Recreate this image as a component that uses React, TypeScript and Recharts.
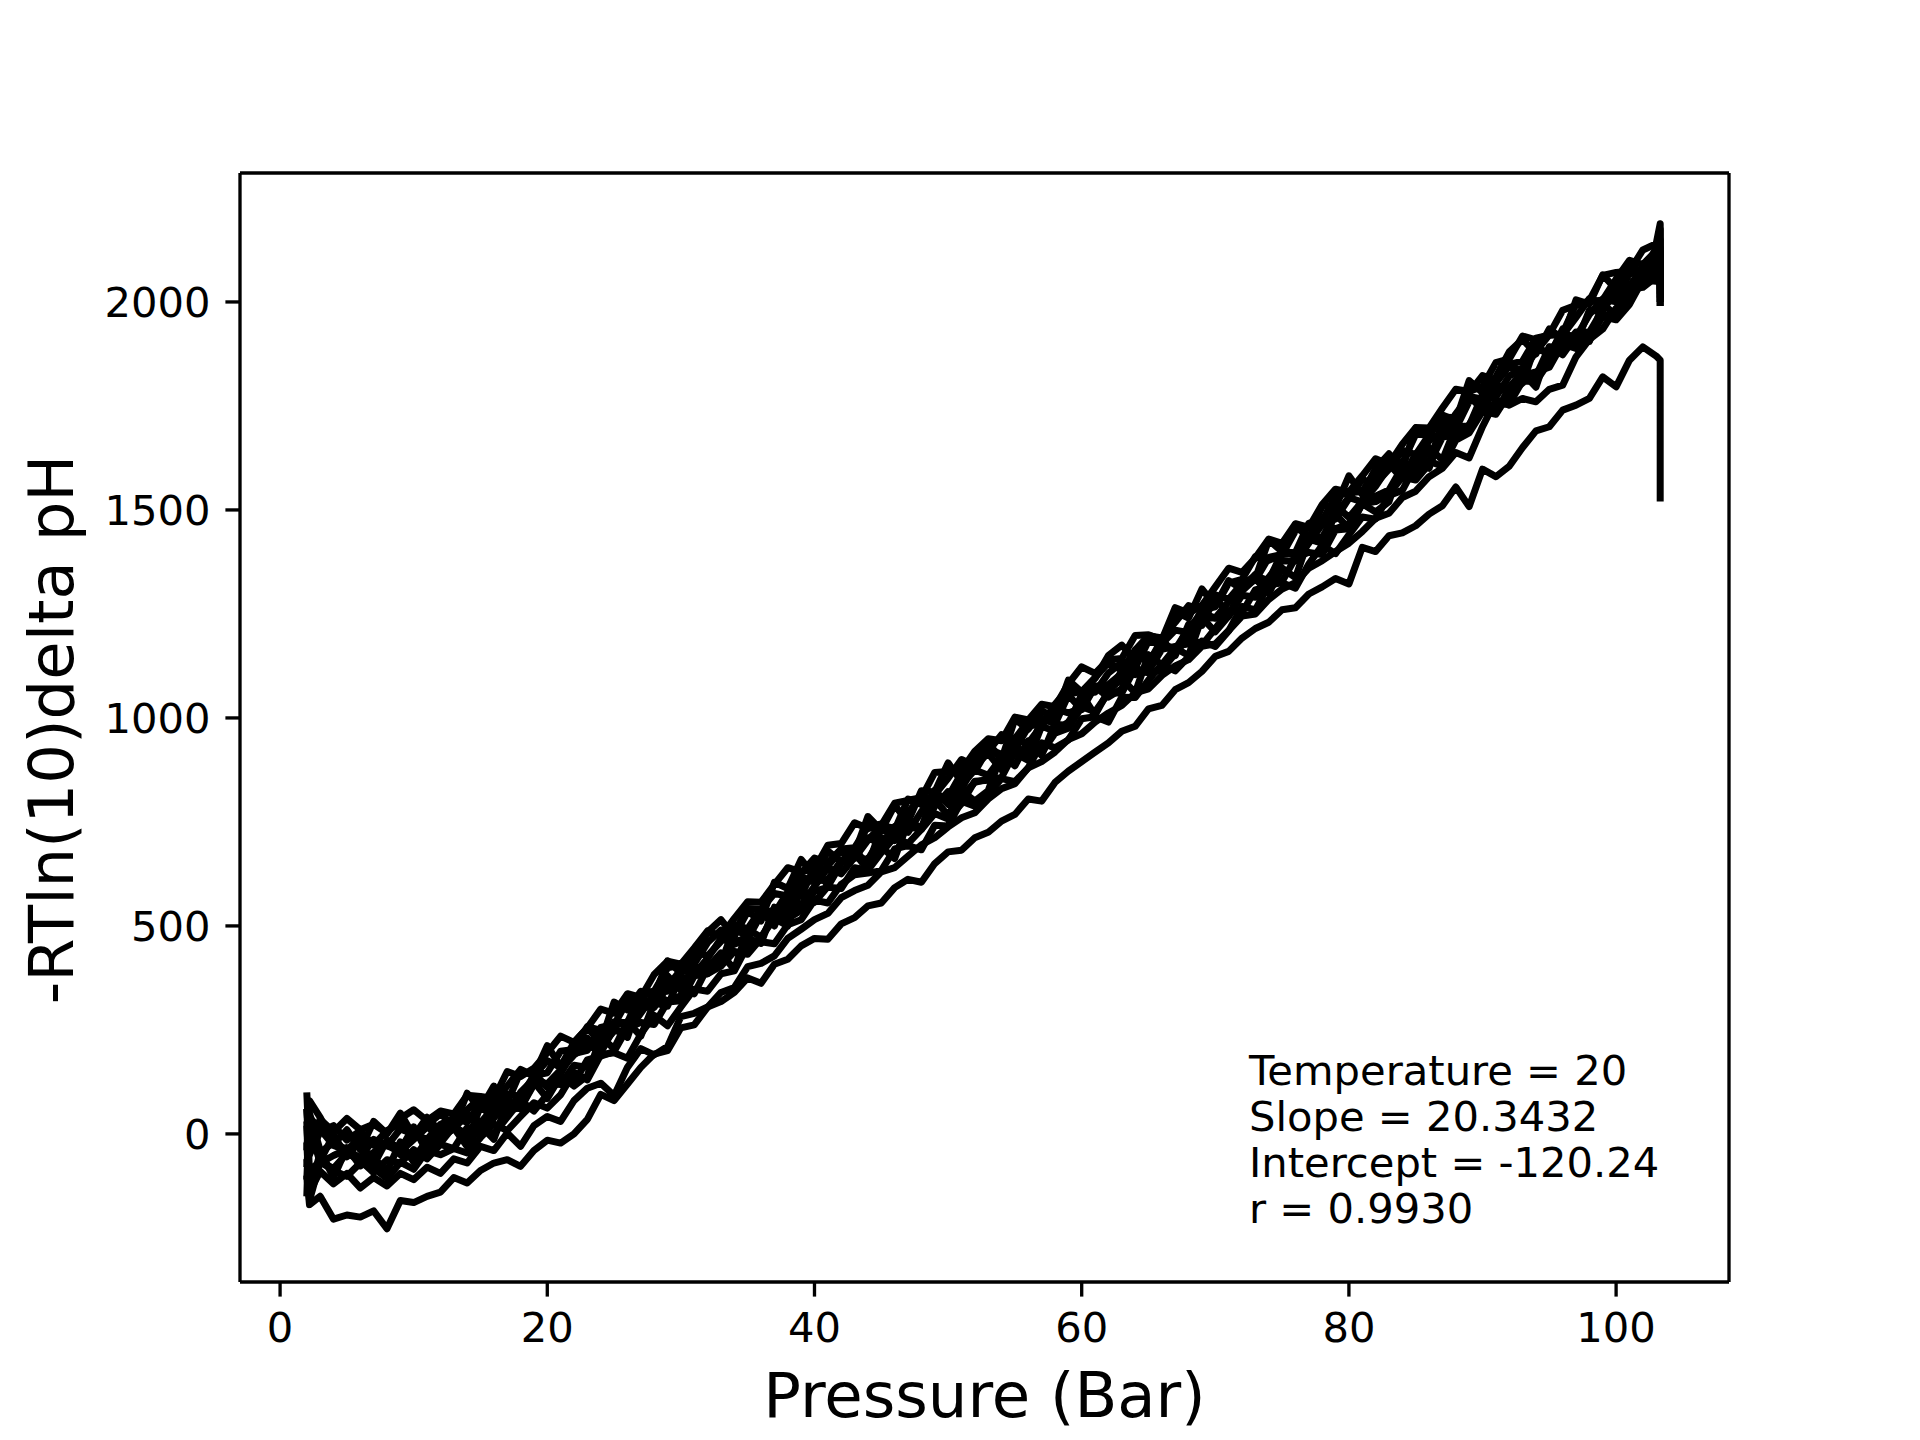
import React from 'react'
import { LineChart, Line, XAxis, YAxis, ReferenceLine } from 'recharts'

const FONT = '"DejaVu Sans", sans-serif'

// pressure steps (bar), shared by every run
const PRESSURE = [
  2, 2.2,
  3, 4, 5, 6, 7, 8, 9, 10, 11, 12,
  13, 14, 15, 16, 17, 18, 19, 20, 21, 22,
  23, 24, 25, 26, 27, 28, 29, 30, 31, 32,
  33, 34, 35, 36, 37, 38, 39, 40, 41, 42,
  43, 44, 45, 46, 47, 48, 49, 50, 51, 52,
  53, 54, 55, 56, 57, 58, 59, 60, 61, 62,
  63, 64, 65, 66, 67, 68, 69, 70, 71, 72,
  73, 74, 75, 76, 77, 78, 79, 80, 81, 82,
  83, 84, 85, 86, 87, 88, 89, 90, 91, 92,
  93, 94, 95, 96, 97, 98, 99, 100, 101, 102, 103,
  103.3, 103.3,
]

// -RT ln(10) delta pH for each run
const RUN_1 = [
  60, -30,
  35, 5, 37, 10, 23, 2, 37, 58, 32, 55,
  48, 93, 90, 85, 150, 138, 158, 195, 235, 220,
  255, 300, 290, 337, 328, 383, 415, 408, 447, 488,
  475, 518, 558, 557, 600, 640, 630, 637, 694, 698,
  748, 734, 742, 795, 802, 808, 869, 871, 874, 920,
  950, 945, 1002, 995, 1033, 1027, 1082, 1123, 1107, 1140,
  1143, 1198, 1200, 1188, 1265, 1252, 1270, 1315, 1360, 1350,
  1385, 1430, 1420, 1467, 1458, 1513, 1550, 1543, 1582, 1623,
  1610, 1658, 1698, 1697, 1745, 1790, 1785, 1797, 1854, 1863,
  1918, 1909, 1922, 1980, 1992, 2003, 2064, 2071, 2074, 2125, 2140,
  2188, 2110,
]
const RUN_2 = [
  100, -50,
  5, 20, -15, 7, -27, 8, 25, -2, 22, 48,
  20, 58, 88, 77, 115, 155, 140, 147, 199, 203,
  258, 249, 262, 320, 332, 343, 399, 406, 409, 460,
  490, 485, 542, 540, 578, 572, 627, 663, 652, 685,
  688, 738, 745, 730, 805, 792, 815, 855, 900, 885,
  920, 960, 950, 992, 983, 1033, 1070, 1063, 1097, 1133,
  1115, 1163, 1198, 1192, 1230, 1270, 1260, 1267, 1324, 1333,
  1388, 1379, 1392, 1450, 1462, 1473, 1534, 1541, 1544, 1595,
  1625, 1612, 1682, 1680, 1723, 1722, 1782, 1823, 1812, 1850,
  1858, 1913, 1920, 1925, 1995, 2000, 2005, 2055, 2100, 2090, 2123,
  2150, 2080,
]
const RUN_3 = [
  -110, 40,
  11, -28, -40, -7, -20, -29, 12, -1, -13, 23,
  38, 28, 75, 63, 96, 90, 140, 176, 160, 193,
  201, 256, 263, 268, 338, 343, 343, 393, 438, 428,
  463, 503, 493, 540, 531, 581, 618, 606, 645, 681,
  663, 706, 741, 735, 773, 813, 803, 810, 867, 871,
  926, 912, 925, 978, 990, 996, 1057, 1064, 1062, 1108,
  1133, 1120, 1185, 1178, 1211, 1205, 1260, 1296, 1285, 1323,
  1331, 1386, 1393, 1398, 1468, 1473, 1478, 1528, 1573, 1563,
  1598, 1643, 1633, 1680, 1676, 1731, 1773, 1766, 1805, 1846,
  1833, 1881, 1921, 1920, 1963, 2008, 1998, 2010, 2067, 2076, 2108,
  2130, 2040,
]
const RUN_4 = [
  30, -140,
  -45, -20, -38, -58, -13, -28, -43, -13, 17, -8,
  12, 47, 27, 64, 50, 100, 132, 120, 154, 190,
  212, 200, 269, 267, 305, 304, 354, 395, 384, 422,
  470, 456, 469, 527, 539, 545, 606, 608, 611, 657,
  672, 712, 697, 739, 725, 775, 812, 800, 839, 875,
  862, 905, 945, 939, 982, 1022, 1012, 1024, 1076, 1080,
  1107, 1152, 1137, 1179, 1165, 1215, 1252, 1240, 1279, 1320,
  1342, 1330, 1399, 1397, 1435, 1434, 1489, 1530, 1519, 1557,
  1605, 1596, 1609, 1667, 1684, 1695, 1761, 1768, 1771, 1822,
  1842, 1887, 1877, 1924, 1915, 1970, 2007, 2000, 2039, 2080, 2090,
  2110, 2020,
]
const RUN_5 = [
  -80, 20,
  -70, -52, -37, -63, -45, -20, -50, -58, -16, -22,
  18, -1, 2, 50, 57, 63, 119, 121, 119, 165,
  160, 208, 248, 247, 290, 335, 320, 332, 389, 398,
  413, 463, 470, 458, 545, 532, 550, 595, 640, 625,
  665, 660, 712, 705, 738, 732, 787, 823, 812, 845,
  853, 903, 915, 898, 980, 968, 990, 1035, 1075, 1060,
  1113, 1104, 1112, 1165, 1172, 1178, 1239, 1241, 1244, 1295,
  1290, 1338, 1378, 1377, 1420, 1465, 1455, 1467, 1524, 1533,
  1548, 1603, 1615, 1600, 1690, 1680, 1705, 1755, 1800, 1790,
  1835, 1822, 1892, 1890, 1928, 1927, 1982, 2023, 2012, 2050, 2075,
  2095, 2010,
]
const RUN_6 = [
  20, -120,
  -65, -83, -47, -63, -93, -62, -70, -38, -60, -25,
  -35, 15, 10, 0, 40, 80, 55, 95, 133, 123,
  178, 187, 198, 255, 268, 263, 317, 320, 380, 385,
  403, 439, 432, 470, 530, 518, 537, 583, 593, 590,
  640, 634, 676, 714, 698, 732, 770, 757, 794, 848,
  850, 857, 918, 922, 917, 963, 975, 1027, 1015, 1060,
  1060, 1120, 1108, 1115, 1155, 1195, 1175, 1215, 1258, 1253,
  1308, 1317, 1328, 1385, 1398, 1393, 1452, 1455, 1515, 1520,
  1538, 1579, 1572, 1610, 1675, 1680, 1692, 1743, 1753, 1755,
  1810, 1809, 1856, 1899, 1888, 1927, 1965, 1957, 1994, 2053, 2050,
  2070, 1990,
]
const RUN_7 = [
  -20, -160,
  -67, -88, -102, -70, -82, -107, -68, -85, -40, -50,
  -35, -46, -9, 24, 8, 42, 75, 62, 94, 148,
  130, 190, 195, 182, 240, 285, 260, 305, 348, 343,
  385, 392, 453, 462, 457, 503, 515, 562, 555, 600,
  623, 627, 633, 685, 693, 683, 742, 740, 800, 788,
  818, 854, 847, 880, 940, 928, 947, 998, 1003, 990,
  1050, 1049, 1091, 1129, 1113, 1147, 1185, 1172, 1209, 1268,
  1260, 1320, 1325, 1312, 1370, 1415, 1395, 1440, 1483, 1478,
  1535, 1547, 1608, 1617, 1605, 1668, 1685, 1737, 1730, 1780,
  1823, 1832, 1843, 1900, 1913, 1908, 1967, 1970, 2030, 2035, 2060,
  2080, 2000,
]
const RUN_8 = [
  -60, -140,
  -90, -120, -95, -130, -105, -125, -95, -110, -80, -95,
  -60, -70, -30, -40, 2, -30, 20, 42, 30, 80,
  110, 122, 92, 160, 205, 190, 210, 282, 290, 305,
  340, 352, 402, 410, 428, 470, 492, 515, 530, 568,
  585, 598, 630, 640, 668, 695, 712, 738, 760, 772,
  805, 830, 842, 880, 895, 918, 948, 962, 990, 1012,
  1030, 1060, 1070, 1102, 1125, 1140, 1172, 1178, 1210, 1245,
  1250, 1285, 1310, 1325, 1360, 1378, 1400, 1420, 1448, 1480,
  1492, 1530, 1545, 1580, 1600, 1638, 1625, 1700, 1764, 1752,
  1768, 1760, 1790, 1800, 1868, 1910, 1935, 1985, 2010, 2050, 2068,
  2040, 1990,
]
const RUN_9 = [
  -100, -170,
  -150, -205, -195, -200, -185, -228, -160, -165, -150, -140,
  -105, -118, -88, -70, -62, -78, -40, -15, -22, 0,
  35, 95, 80, 120, 160, 192, 200, 255, 262, 305,
  318, 340, 375, 362, 408, 420, 452, 470, 468, 505,
  520, 548, 555, 592, 612, 605, 650, 678, 682, 712,
  725, 752, 768, 805, 800, 845, 872, 895, 918, 940,
  968, 980, 1022, 1030, 1068, 1085, 1112, 1148, 1160, 1192,
  1215, 1230, 1260, 1265, 1298, 1315, 1335, 1322, 1410, 1400,
  1438, 1445, 1462, 1490, 1510, 1555, 1508, 1598, 1580, 1605,
  1650, 1690, 1700, 1740, 1752, 1768, 1820, 1796, 1860, 1892, 1870,
  1860, 1520,
]
const RUN_10 = [
  -40, 80,
  40, -25, 10, -38, 30, 0, 50, -5, 40, 5,
  15, 98, 60, 115, 75, 150, 142, 212, 162, 220,
  255, 220, 317, 298, 343, 330, 416, 387, 425, 485,
  515, 475, 535, 512, 605, 590, 660, 620, 680, 655,
  675, 763, 730, 790, 750, 825, 822, 892, 847, 905,
  940, 900, 997, 973, 1018, 1000, 1091, 1062, 1095, 1150,
  1175, 1140, 1195, 1167, 1255, 1240, 1310, 1270, 1330, 1310,
  1335, 1428, 1400, 1465, 1430, 1510, 1507, 1582, 1537, 1600,
  1635, 1600, 1697, 1678, 1728, 1715, 1811, 1782, 1820, 1880,
  1910, 1875, 1935, 1912, 2005, 1995, 2065, 2030, 2090, 2070, 2130,
  2175, 2060,
]
const RUN_11 = [
  60, -90,
  -65, -2, -55, -15, -75, -15, -38, 17, -43, 5,
  25, -20, 67, 38, 78, 60, 146, 112, 145, 200,
  230, 195, 255, 232, 325, 315, 380, 345, 405, 385,
  410, 498, 470, 535, 500, 575, 572, 642, 597, 655,
  685, 645, 737, 713, 753, 735, 826, 792, 830, 885,
  915, 875, 935, 907, 1000, 985, 1055, 1020, 1075, 1050,
  1070, 1163, 1130, 1190, 1150, 1225, 1222, 1292, 1247, 1310,
  1345, 1310, 1407, 1388, 1433, 1420, 1511, 1482, 1520, 1580,
  1610, 1575, 1635, 1612, 1710, 1700, 1775, 1740, 1800, 1780,
  1805, 1898, 1870, 1935, 1900, 1980, 1977, 2052, 2007, 2070, 2075,
  2120, 2030,
]
const RUN_12 = [
  -150, 50,
  -40, -105, -33, -77, -57, -90, -19, -68, -45, 0,
  15, -30, 20, -13, 75, 60, 125, 85, 140, 115,
  140, 233, 205, 270, 235, 315, 307, 382, 337, 400,
  435, 395, 492, 473, 518, 500, 591, 557, 595, 650,
  675, 635, 690, 662, 750, 735, 805, 765, 825, 800,
  825, 913, 885, 945, 910, 985, 982, 1057, 1007, 1065,
  1095, 1060, 1152, 1128, 1168, 1150, 1241, 1207, 1245, 1305,
  1335, 1300, 1360, 1337, 1430, 1420, 1490, 1455, 1515, 1495,
  1520, 1613, 1585, 1650, 1620, 1700, 1702, 1777, 1732, 1795,
  1830, 1795, 1892, 1873, 1918, 1905, 1996, 1967, 2005, 2065, 2070,
  2100, 2000,
]

const RUNS = [RUN_1, RUN_2, RUN_3, RUN_4, RUN_5, RUN_6, RUN_7, RUN_8, RUN_9, RUN_10, RUN_11, RUN_12]

const X_TICKS = [0, 20, 40, 60, 80, 100]
const Y_TICKS = [0, 500, 1000, 1500, 2000]
const X_DOMAIN: [number, number] = [-3.0, 108.45]
const Y_DOMAIN: [number, number] = [-356, 2310]

const FIT_LINES = ['Temperature = 20', 'Slope = 20.3432', 'Intercept = -120.24', 'r = 0.9930']

const rows = PRESSURE.map((p, i) => {
  const r: any = { p }
  RUNS.forEach((run, k) => { r[`run${k + 1}`] = run[i] })
  return r
})

const tickStyle = { fontSize: 41.67, fill: '#000', fontFamily: FONT }
const spine = { stroke: '#000', strokeWidth: 3.33 }

export default function App() {
  return (
    <div style={{ position: 'absolute', left: 0, top: 0, width: 1920, height: 1440, background: '#fff' }}>
      <LineChart width={1920} height={1440} data={rows} margin={{ top: 173, right: 191, bottom: 0, left: 0 }}>
        <XAxis
          type="number" dataKey="p" domain={X_DOMAIN} ticks={X_TICKS} allowDataOverflow interval={0}
          height={158} tickSize={14.6} tickMargin={16} tick={tickStyle}
          axisLine={spine} tickLine={spine}
        />
        <YAxis
          type="number" domain={Y_DOMAIN} ticks={Y_TICKS} allowDataOverflow interval={0}
          width={240} tickSize={14.6} tickMargin={15} tick={tickStyle}
          axisLine={spine} tickLine={spine}
        />
        <ReferenceLine y={Y_DOMAIN[1]} stroke="#000" strokeWidth={3.33} />
        <ReferenceLine x={X_DOMAIN[1]} stroke="#000" strokeWidth={3.33} />
        {RUNS.map((_, k) => (
          <Line
            key={k} type="linear" dataKey={`run${k + 1}`} stroke="#000" strokeWidth={7}
            strokeLinejoin="round" dot={false} activeDot={false} isAnimationActive={false}
          />
        ))}
      </LineChart>

      {/* axis titles + fit summary */}
      <svg width={1920} height={1440} style={{ position: 'absolute', left: 0, top: 0, pointerEvents: 'none' }}>
        <text x={984.5} y={1417} textAnchor="middle" fontSize={62.5} fontFamily={FONT} fill="#000">Pressure (Bar)</text>
        <text x={73} y={729.5} textAnchor="middle" fontSize={62.5} fontFamily={FONT} fill="#000"
          transform="rotate(-90 73 729.5)">-RTln(10)delta pH</text>
        {FIT_LINES.map((t, i) => (
          <text key={i} x={1249} y={1085 + i * 46} fontSize={41.67} fontFamily={FONT} fill="#000">{t}</text>
        ))}
      </svg>
    </div>
  )
}
